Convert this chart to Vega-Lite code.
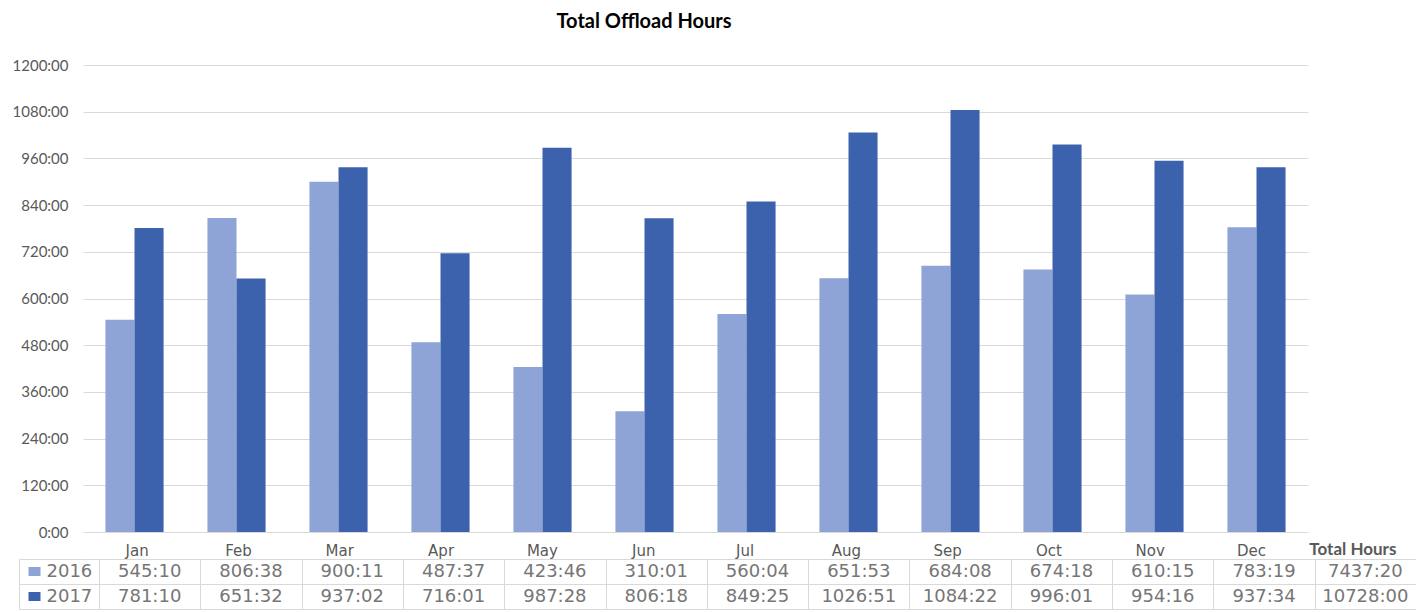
{
  "$schema": "https://vega.github.io/schema/vega-lite/v6.json",
  "background": "white",
  "padding": {"left": 12, "top": 12, "right": 0, "bottom": 0},
  "title": {"text": "Total Offload Hours", "font": "Lato", "fontSize": 20, "fontWeight": "bold", "color": "#000000", "anchor": "middle", "dx": -70, "offset": 26},
  "config": {"view": {"stroke": null}},
  "data": {"values": [
    {"month": "Jan", "year": "2016", "hours": 545.167, "label": "545:10"},
    {"month": "Feb", "year": "2016", "hours": 806.633, "label": "806:38"},
    {"month": "Mar", "year": "2016", "hours": 900.183, "label": "900:11"},
    {"month": "Apr", "year": "2016", "hours": 487.617, "label": "487:37"},
    {"month": "May", "year": "2016", "hours": 423.767, "label": "423:46"},
    {"month": "Jun", "year": "2016", "hours": 310.017, "label": "310:01"},
    {"month": "Jul", "year": "2016", "hours": 560.067, "label": "560:04"},
    {"month": "Aug", "year": "2016", "hours": 651.883, "label": "651:53"},
    {"month": "Sep", "year": "2016", "hours": 684.133, "label": "684:08"},
    {"month": "Oct", "year": "2016", "hours": 674.3, "label": "674:18"},
    {"month": "Nov", "year": "2016", "hours": 610.25, "label": "610:15"},
    {"month": "Dec", "year": "2016", "hours": 783.317, "label": "783:19"},
    {"month": "Total Hours", "year": "2016", "hours": 7437.333, "label": "7437:20"},
    {"month": "Jan", "year": "2017", "hours": 781.167, "label": "781:10"},
    {"month": "Feb", "year": "2017", "hours": 651.533, "label": "651:32"},
    {"month": "Mar", "year": "2017", "hours": 937.033, "label": "937:02"},
    {"month": "Apr", "year": "2017", "hours": 716.017, "label": "716:01"},
    {"month": "May", "year": "2017", "hours": 987.467, "label": "987:28"},
    {"month": "Jun", "year": "2017", "hours": 806.3, "label": "806:18"},
    {"month": "Jul", "year": "2017", "hours": 849.417, "label": "849:25"},
    {"month": "Aug", "year": "2017", "hours": 1026.85, "label": "1026:51"},
    {"month": "Sep", "year": "2017", "hours": 1084.367, "label": "1084:22"},
    {"month": "Oct", "year": "2017", "hours": 996.017, "label": "996:01"},
    {"month": "Nov", "year": "2017", "hours": 954.267, "label": "954:16"},
    {"month": "Dec", "year": "2017", "hours": 937.567, "label": "937:34"},
    {"month": "Total Hours", "year": "2017", "hours": 10728.0, "label": "10728:00"}
  ]},
  "concat": [
    {
      "width": 1225,
      "height": 467,
      "transform": [{"filter": "datum.month !== 'Total Hours'"}],
      "mark": {"type": "bar"},
      "encoding": {
        "x": {"field": "month", "type": "nominal", "sort": null,
          "scale": {"type": "band", "domain": ["Jan","Feb","Mar","Apr","May","Jun","Jul","Aug","Sep","Oct","Nov","Dec"], "paddingInner": 0.43, "paddingOuter": 0.22},
          "axis": null},
        "xOffset": {"field": "year", "type": "nominal", "scale": {"domain": ["2016","2017"], "paddingInner": 0, "paddingOuter": 0}},
        "y": {"field": "hours", "type": "quantitative",
          "scale": {"domain": [0, 1200], "nice": false},
          "axis": {"values": [0,120,240,360,480,600,720,840,960,1080,1200], "labelExpr": "datum.value + ':00'", "title": null, "domain": false, "ticks": false, "labelPadding": 15, "labelFont": "Lato", "labelFontSize": 15, "labelColor": "#595959", "gridColor": "#d9d9d9", "gridWidth": 1}},
        "color": {"field": "year", "type": "nominal", "scale": {"domain": ["2016","2017"], "range": ["#8FA4D6","#3D62AD"]}, "legend": null}
      }
    },
    {
      "width": 1333,
      "height": 50,
      "layer": [
        {
          "mark": {"type": "text", "font": "DejaVu Sans", "fontSize": 18, "color": "#767676"},
          "encoding": {
            "x": {"field": "month", "type": "nominal", "sort": null,
              "scale": {"type": "band", "domain": ["Jan","Feb","Mar","Apr","May","Jun","Jul","Aug","Sep","Oct","Nov","Dec","Total Hours"], "paddingInner": 0, "paddingOuter": 0.079, "align": 1},
              "axis": {"orient": "top", "title": null, "domain": false, "ticks": false, "tickBand": "extent", "grid": true, "gridColor": "#d9d9d9", "labelAngle": 0, "labelPadding": 1, "labelOffset": -13, "labelColor": "#595959",
                "labelFont": {"condition": {"test": "datum.value === 'Total Hours'", "value": "Lato"}, "value": "DejaVu Sans"},
                "labelFontSize": {"condition": {"test": "datum.value === 'Total Hours'", "value": 17}, "value": 15},
                "labelFontWeight": {"condition": {"test": "datum.value === 'Total Hours'", "value": "bold"}, "value": "normal"}}},
            "y": {"field": "year", "type": "nominal", "sort": null,
              "scale": {"type": "band", "domain": ["2016","2017"], "paddingInner": 0, "paddingOuter": 0},
              "axis": {"orient": "left", "title": null, "labels": false, "domain": false, "ticks": true, "tickSize": 64, "tickColor": "#d9d9d9", "tickBand": "extent", "grid": true, "gridColor": "#d9d9d9"}},
            "text": {"field": "label"}
          }
        },
        {
          "mark": {"type": "text", "opacity": 0},
          "encoding": {
            "y": {"field": "year", "type": "nominal", "sort": null,
              "axis": {"orient": "left", "offset": 64, "title": null, "domain": true, "domainColor": "#d9d9d9", "ticks": true, "tickSize": -21, "tickWidth": 9, "tickDash": [0, 9, 12, 0],
                "tickColor": {"condition": {"test": "datum.value === '2016'", "value": "#8FA4D6"}, "value": "#3D62AD"},
                "labelAlign": "left", "labelPadding": -6, "labelFont": "DejaVu Sans", "labelFontSize": 18, "labelColor": "#767676", "grid": false}},
            "text": {"field": "label"}
          }
        }
      ],
      "resolve": {"axis": {"y": "independent"}}
    }
  ],
  "columns": 1,
  "spacing": 0,
  "resolve": {"scale": {"x": "independent", "y": "independent"}}
}
